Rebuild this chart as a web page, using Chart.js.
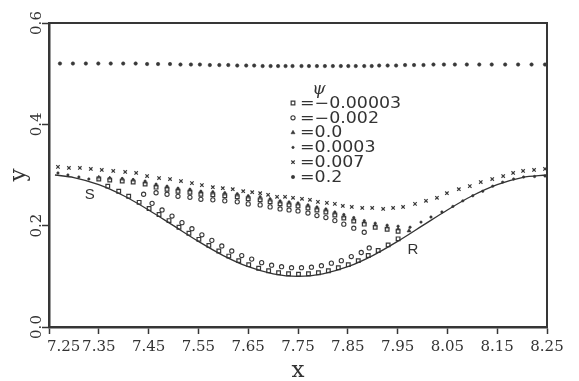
<!DOCTYPE html>
<html>
<head>
<meta charset="utf-8">
<script src="https://cdn.jsdelivr.net/npm/chart.js@4.4.1/dist/chart.umd.min.js"></script>
<style>
  html, body { margin: 0; padding: 0; background: #ffffff; }
  #wrap { width: 579px; height: 381px; position: relative; }
</style>
</head>
<body>
<div id="wrap"><canvas id="c" width="579" height="381"></canvas></div>
<script>
// ---- axis ticks ----
const X_TICKS = [7.25, 7.35, 7.45, 7.55, 7.65, 7.75, 7.85, 7.95, 8.05, 8.15, 8.25];
const Y_TICKS = [0.0, 0.2, 0.4, 0.6];

// ---- wavy wall (solid line) ----
const WALL_X = [7.262, 7.30, 7.35, 7.40, 7.45, 7.50, 7.55, 7.60, 7.65, 7.70, 7.75,
                7.80, 7.85, 7.90, 7.95, 8.00, 8.05, 8.10, 8.15, 8.20, 8.25];
const WALL_Y = [0.300, 0.295, 0.281, 0.259, 0.231, 0.200, 0.169, 0.141, 0.119, 0.105, 0.100,
                0.105, 0.119, 0.141, 0.169, 0.200, 0.231, 0.259, 0.281, 0.295, 0.300];

// ---- psi = -0.00003 (open squares): upper branch S->R, then along the wall ----
const SQ_X = [7.350, 7.372, 7.397, 7.419, 7.443, 7.465, 7.487, 7.509, 7.533, 7.555, 7.579, 7.603,
              7.628, 7.650, 7.674, 7.694, 7.714, 7.732, 7.750, 7.770, 7.788, 7.806, 7.824, 7.842,
              7.862, 7.883, 7.905, 7.929, 7.951,
              7.368, 7.390, 7.410, 7.431, 7.451, 7.471, 7.491, 7.511, 7.531, 7.551, 7.571, 7.591,
              7.611, 7.631, 7.651, 7.671, 7.691, 7.711, 7.731, 7.751, 7.771, 7.791, 7.811, 7.831,
              7.851, 7.871, 7.891, 7.911, 7.931, 7.951];
const SQ_Y = [0.292, 0.290, 0.288, 0.286, 0.282, 0.276, 0.272, 0.268, 0.266, 0.262, 0.261, 0.259,
              0.257, 0.253, 0.251, 0.247, 0.243, 0.241, 0.239, 0.235, 0.231, 0.227, 0.221, 0.215,
              0.209, 0.203, 0.197, 0.193, 0.189,
              0.278, 0.268, 0.258, 0.246, 0.234, 0.222, 0.210, 0.197, 0.185, 0.173, 0.161, 0.150,
              0.140, 0.131, 0.123, 0.116, 0.111, 0.107, 0.105, 0.104, 0.105, 0.107, 0.111, 0.117,
              0.123, 0.131, 0.141, 0.151, 0.162, 0.174];

// ---- psi = -0.002 (open circles): closed loop inside the eddy ----
const CI_X = [7.440, 7.457, 7.477, 7.497, 7.517, 7.537, 7.557, 7.577, 7.597, 7.617, 7.637, 7.657,
              7.677, 7.697, 7.717, 7.737, 7.757, 7.777, 7.797, 7.817, 7.837, 7.857, 7.877, 7.893,
              7.465, 7.487, 7.509, 7.533, 7.555, 7.579, 7.603, 7.628, 7.650, 7.674, 7.694, 7.714,
              7.732, 7.750, 7.770, 7.788, 7.806, 7.824, 7.842, 7.862, 7.883];
const CI_Y = [0.262, 0.244, 0.231, 0.219, 0.206, 0.194, 0.182, 0.171, 0.160, 0.150, 0.141, 0.134,
              0.127, 0.122, 0.119, 0.117, 0.117, 0.118, 0.121, 0.126, 0.131, 0.139, 0.147, 0.156,
              0.265, 0.262, 0.258, 0.256, 0.252, 0.251, 0.249, 0.247, 0.243, 0.241, 0.237, 0.233,
              0.231, 0.229, 0.225, 0.220, 0.216, 0.210, 0.203, 0.195, 0.187];

// ---- psi = 0.0 (triangles): dividing streamline S->R ----
const TR_X = [7.350, 7.372, 7.397, 7.419, 7.443, 7.465, 7.487, 7.509, 7.533, 7.555, 7.579, 7.603,
              7.628, 7.650, 7.674, 7.694, 7.714, 7.732, 7.750, 7.770, 7.788, 7.806, 7.824, 7.842,
              7.862, 7.883, 7.905, 7.929, 7.951, 7.973];
const TR_Y = [0.295, 0.293, 0.291, 0.289, 0.285, 0.279, 0.275, 0.271, 0.269, 0.265, 0.264, 0.262,
              0.260, 0.256, 0.254, 0.250, 0.246, 0.244, 0.242, 0.238, 0.234, 0.230, 0.224, 0.218,
              0.212, 0.206, 0.200, 0.196, 0.193, 0.190];

// ---- psi = 0.0003 (small dots): just outside the eddy ----
const DT_X = [7.268, 7.288, 7.310, 7.330, 7.350, 7.372, 7.397, 7.419, 7.443, 7.465, 7.487, 7.509,
              7.533, 7.555, 7.579, 7.603, 7.628, 7.650, 7.674, 7.694, 7.714, 7.732, 7.750, 7.770,
              7.788, 7.806, 7.824, 7.842, 7.862, 7.883, 7.905, 7.929, 7.951, 7.975, 7.997, 8.017,
              8.039, 8.061, 8.081, 8.101, 8.121, 8.141, 8.161, 8.183, 8.203, 8.225, 8.246];
const DT_Y = [0.304, 0.300, 0.296, 0.292, 0.294, 0.294, 0.293, 0.291, 0.288, 0.282, 0.278, 0.274,
              0.272, 0.268, 0.267, 0.265, 0.263, 0.259, 0.257, 0.253, 0.249, 0.247, 0.245, 0.241,
              0.237, 0.233, 0.227, 0.222, 0.216, 0.210, 0.205, 0.201, 0.199, 0.197, 0.207, 0.217,
              0.227, 0.238, 0.249, 0.259, 0.268, 0.278, 0.286, 0.292, 0.296, 0.297, 0.298];

// ---- psi = 0.007 (crosses) ----
const XX_X = [7.268, 7.290, 7.312, 7.334, 7.356, 7.379, 7.403, 7.425, 7.447, 7.471, 7.493, 7.515,
              7.537, 7.557, 7.579, 7.599, 7.619, 7.640, 7.658, 7.674, 7.690, 7.708, 7.724, 7.740,
              7.758, 7.774, 7.790, 7.808, 7.824, 7.840, 7.858, 7.879, 7.899, 7.921, 7.941, 7.961,
              7.985, 8.007, 8.029, 8.049, 8.073, 8.095, 8.117, 8.140, 8.162, 8.182, 8.202, 8.224, 8.246];
const XX_Y = [0.316, 0.314, 0.314, 0.312, 0.310, 0.308, 0.306, 0.304, 0.298, 0.294, 0.292, 0.288,
              0.284, 0.280, 0.276, 0.274, 0.272, 0.268, 0.266, 0.264, 0.261, 0.257, 0.257, 0.255,
              0.253, 0.251, 0.247, 0.245, 0.243, 0.239, 0.237, 0.235, 0.235, 0.233, 0.235, 0.237,
              0.243, 0.249, 0.255, 0.264, 0.272, 0.278, 0.286, 0.292, 0.298, 0.304, 0.308, 0.310, 0.312];

// ---- psi = 0.2 (dots near the top) ----
const TOP_X = [7.272, 7.298, 7.324, 7.349, 7.374, 7.399, 7.424, 7.447, 7.469, 7.493, 7.514, 7.535,
               7.553, 7.573, 7.592, 7.610, 7.628, 7.646, 7.662, 7.679, 7.695, 7.710, 7.725, 7.739,
               7.757, 7.772, 7.788, 7.804, 7.820, 7.836, 7.851, 7.866, 7.883, 7.898, 7.913, 7.930,
               7.947, 7.965, 7.983, 8.002, 8.022, 8.043, 8.065, 8.089, 8.114, 8.139, 8.166, 8.192,
               8.219, 8.246];
const TOP_Y = [0.520, 0.520, 0.520, 0.520, 0.520, 0.520, 0.520, 0.519, 0.519, 0.519, 0.518, 0.518,
               0.518, 0.517, 0.517, 0.517, 0.516, 0.516, 0.516, 0.515, 0.515, 0.515, 0.515, 0.515,
               0.515, 0.515, 0.515, 0.515, 0.515, 0.515, 0.515, 0.515, 0.515, 0.515, 0.516, 0.516,
               0.516, 0.517, 0.517, 0.517, 0.518, 0.518, 0.518, 0.518, 0.518, 0.518, 0.518, 0.518,
               0.518, 0.518];

// ---- legend entries and point labels ----
const PSI_LABELS = ['\u22120.00003', '\u22120.002', '0.0', '0.0003', '0.007', '0.2'];
const POINT_LABELS = [{ text: 'S', x: 7.332, y: 0.260 }, { text: 'R', x: 7.981, y: 0.152 }];

const INK = '#383838';
const AXIS = '#363636';
const TEXT = '#333333';
const TICK_FONT = '15px "DejaVu Serif"';

const pts = (xs, ys) => xs.map((x, i) => ({ x: x, y: ys[i] }));

const markerStyles = [
  { pointStyle: 'rect',     radius: 2.6, fill: 'rgba(255,255,255,0.5)', borderWidth: 1.2 },
  { pointStyle: 'circle',   radius: 2.1, fill: 'rgba(255,255,255,0.5)', borderWidth: 1.1 },
  { pointStyle: 'triangle', radius: 2.3, fill: INK, borderWidth: 0.6 },
  { pointStyle: 'circle',   radius: 1.2, fill: INK, borderWidth: 0.6 },
  { pointStyle: 'crossRot', radius: 2.4, fill: INK, borderWidth: 1.2 },
  { pointStyle: 'circle',   radius: 1.7, fill: INK, borderWidth: 0.6 }
];
const seriesData = [pts(SQ_X, SQ_Y), pts(CI_X, CI_Y), pts(TR_X, TR_Y), pts(DT_X, DT_Y), pts(XX_X, XX_Y), pts(TOP_X, TOP_Y)];

const markerSets = seriesData.map((d, i) => ({
  type: 'scatter',
  label: 'psi = ' + PSI_LABELS[i],
  data: d,
  showLine: false,
  pointStyle: markerStyles[i].pointStyle,
  pointRadius: markerStyles[i].radius,
  pointBorderWidth: markerStyles[i].borderWidth,
  pointBackgroundColor: markerStyles[i].fill,
  pointBorderColor: INK,
  clip: false
}));

// frame, first x label, y tick labels, legend and point labels
const decorations = {
  id: 'decorations',
  afterDraw(chart) {
    const ctx = chart.ctx;
    const a = chart.chartArea;
    const xs = chart.scales.x, ys = chart.scales.y;
    ctx.save();
    // top and right sides of the frame
    ctx.strokeStyle = AXIS;
    ctx.lineWidth = 2;
    ctx.beginPath();
    ctx.moveTo(a.left, a.top);
    ctx.lineTo(a.right, a.top);
    ctx.lineTo(a.right, a.bottom);
    ctx.stroke();

    // first x tick label starts at the axis instead of being centred on it
    const items = xs.getLabelItems();
    const ref = items[1];
    ctx.fillStyle = TEXT;
    ctx.font = TICK_FONT;
    ctx.textAlign = 'left';
    ctx.textBaseline = ref.options.textBaseline;
    ctx.fillText(X_TICKS[0].toFixed(2), xs.getPixelForValue(X_TICKS[0]) - 2, ref.options.translation[1] + (ref.textOffset || 0));

    // rotated y tick labels
    ctx.textAlign = 'center';
    ctx.textBaseline = 'alphabetic';
    Y_TICKS.forEach(v => {
      const py = ys.getPixelForValue(v);
      ctx.save();
      ctx.translate(a.left - 8, py);
      ctx.rotate(-Math.PI / 2);
      ctx.fillText(v.toFixed(1), 0, 0);
      ctx.restore();
    });

    // S / R labels
    ctx.font = '15px "Liberation Sans"';
    ctx.textBaseline = 'middle';
    POINT_LABELS.forEach(p => {
      ctx.fillText(p.text, xs.getPixelForValue(p.x), ys.getPixelForValue(p.y));
    });

    // legend
    const lx = 293, ly = 103, step = 14.8;
    ctx.font = 'italic 17px "DejaVu Serif"';
    ctx.textAlign = 'center';
    ctx.fillText('\u03C8', 319, 90);
    ctx.textAlign = 'left';
    ctx.font = '15px "DejaVu Sans"';
    PSI_LABELS.forEach((lab, i) => {
      const y = ly + i * step;
      const m = markerStyles[i];
      ctx.fillStyle = m.fill;
      ctx.strokeStyle = INK;
      ctx.lineWidth = m.borderWidth;
      Chart.helpers.drawPoint(ctx, { pointStyle: m.pointStyle, radius: m.radius, rotation: 0, borderWidth: m.borderWidth }, lx, y);
      ctx.fillStyle = TEXT;
      ctx.save();
      ctx.translate(lx + 7, y + 1);
      ctx.scale(1.16, 1);
      ctx.fillText('=' + lab, 0, 0);
      ctx.restore();
    });
    ctx.restore();
  }
};

new Chart(document.getElementById('c'), {
  data: {
    datasets: [
      {
        type: 'line',
        label: 'wall',
        data: pts(WALL_X, WALL_Y),
        borderColor: '#333333',
        borderWidth: 1.3,
        pointRadius: 0,
        fill: false,
        cubicInterpolationMode: 'monotone'
      },
      ...markerSets
    ]
  },
  options: {
    responsive: false,
    animation: false,
    devicePixelRatio: 1,
    layout: { padding: { top: 23, right: 32, left: 0, bottom: 0 } },
    plugins: { legend: { display: false }, tooltip: { enabled: false } },
    scales: {
      x: {
        type: 'linear',
        min: 7.25, max: 8.25,
        afterBuildTicks: s => { s.ticks = X_TICKS.map(v => ({ value: v })); },
        afterFit: s => { s.height = 54; },
        grid: { drawOnChartArea: false, drawTicks: true, tickLength: 7, tickColor: AXIS, tickWidth: 1.5 },
        border: { display: true, color: AXIS, width: 2.5 },
        ticks: {
          autoSkip: false, maxRotation: 0, minRotation: 0, padding: 4,
          color: TEXT,
          font: { family: 'DejaVu Serif', size: 15 },
          callback: (v, i) => (i === 0 ? '' : Number(v).toFixed(2))
        },
        title: { display: true, text: 'x', color: TEXT, font: { family: 'DejaVu Serif', size: 23, lineHeight: 1 }, padding: { top: 0, bottom: -2 } }
      },
      y: {
        type: 'linear',
        min: 0, max: 0.6,
        afterBuildTicks: s => { s.ticks = Y_TICKS.map(v => ({ value: v })); },
        afterFit: s => { s.width = 49; },
        grid: { drawOnChartArea: false, drawTicks: true, tickLength: 7, tickColor: AXIS, tickWidth: 1.5 },
        border: { display: true, color: AXIS, width: 2.5 },
        ticks: { display: false },
        title: { display: true, text: 'y', color: TEXT, font: { family: 'DejaVu Serif', size: 23, lineHeight: 1 }, padding: { top: 8 } }
      }
    }
  },
  plugins: [decorations]
});
</script>
</body>
</html>
